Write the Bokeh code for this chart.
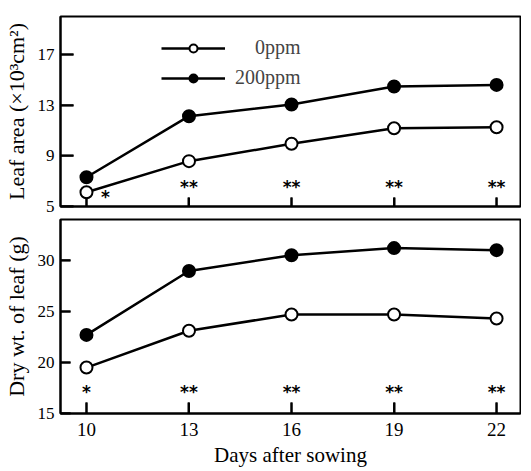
import math
from bokeh.plotting import figure
from bokeh.layouts import column
from bokeh.models import Range1d, FixedTicker, Legend, LegendItem, ColumnDataSource
from bokeh.core.properties import value
from bokeh.embed import file_html
from bokeh.resources import INLINE

# ---- data ----
days = [10, 13, 16, 19, 22]
leaf_area_0ppm = [6.13, 8.58, 9.95, 11.18, 11.26]
leaf_area_200ppm = [7.31, 12.13, 13.05, 14.47, 14.6]
dry_wt_0ppm = [19.5, 23.1, 24.7, 24.7, 24.3]
dry_wt_200ppm = [22.7, 28.95, 30.5, 31.2, 31.0]
sig_leaf_area = ["*", "**", "**", "**", "**"]
sig_dry_wt = ["*", "**", "**", "**", "**"]
leaf_area_ticks = [5, 9, 13, 17]
dry_wt_ticks = [15, 20, 25, 30]
x_ticks = [10, 13, 16, 19, 22]
legend_labels = ["\u2007\u20070ppm", "200ppm"]

SERIF = "Liberation Serif"

x_range = Range1d(9.24, 22.70)


def style(p, yticks, ytick_in, xtick_in):
    p.grid.visible = False
    p.outline_line_color = "black"
    p.outline_line_width = 2
    p.background_fill_color = None
    p.border_fill_color = "white"
    for ax in (p.xaxis[0], p.yaxis[0]):
        ax.axis_line_width = 2
        ax.axis_line_color = "black"
        ax.major_tick_line_width = 2
        ax.major_tick_line_color = "black"
        ax.major_tick_out = 0
        ax.minor_tick_line_color = None
        ax.major_label_text_font = SERIF
        ax.major_label_text_color = "black"
        ax.axis_label_text_font = SERIF
        ax.axis_label_text_font_style = "normal"
        ax.axis_label_text_color = "black"
    p.xaxis.ticker = FixedTicker(ticks=x_ticks)
    p.xaxis.major_tick_in = xtick_in
    p.yaxis.ticker = FixedTicker(ticks=yticks)
    p.yaxis.major_tick_in = ytick_in
    p.yaxis.major_label_text_font_size = "17px"
    p.yaxis.major_label_standoff = 6
    p.yaxis.axis_label_text_font_size = "22px"
    p.yaxis.axis_label_standoff = 6
    # inward tick marks (drawn as clipped dashes centred on the axis lines)
    p.scatter(x=x_ticks, y=[p.y_range.start] * len(x_ticks), marker="dash",
              angle=math.pi / 2, size=2 * xtick_in, line_color="black",
              line_width=2)
    p.scatter(x=[x_range.start] * len(yticks), y=yticks, marker="dash",
              size=2 * ytick_in, line_color="black", line_width=2)


def series(p, y0, y2):
    l2 = p.line(days, y2, line_color="black", line_width=2.5)
    s2 = p.scatter(days, y2, size=12, marker="circle", fill_color="black",
                   line_color="black", line_width=2)
    l0 = p.line(days, y0, line_color="black", line_width=2.5)
    s0 = p.scatter(days, y0, size=12, marker="circle", fill_color="white",
                   line_color="black", line_width=2)
    return (l0, s0), (l2, s2)


def stars(p, labels, ybase, yoffs, xoffs):
    src = ColumnDataSource(dict(x=days, y=[ybase] * len(days), t=labels,
                                yo=yoffs, xo=xoffs))
    p.text(x="x", y="y", text="t", source=src, x_offset="xo", y_offset="yo",
           text_font=value("DejaVu Sans"), text_font_style="bold",
           text_font_size="17px", text_align="center", text_baseline="middle",
           text_color="black")


# ---- top panel ----
p1 = figure(frame_width=460, frame_height=190, x_range=x_range,
            y_range=Range1d(5, 20), output_backend="svg", toolbar_location=None,
            min_border_left=58, min_border_right=1, min_border_top=16,
            min_border_bottom=10)
style(p1, leaf_area_ticks, 13, 9)
p1.yaxis.axis_label = "Leaf area (×10³cm²)"
p1.xaxis.major_label_overrides = {t: "" for t in x_ticks}
p1.xaxis.major_label_text_font_size = "1px"
p1.xaxis.major_label_standoff = 0
(r0, r2) = series(p1, leaf_area_0ppm, leaf_area_200ppm)
stars(p1, sig_leaf_area, 5, [-10, -20, -20, -20, -20], [19, 0, 0, 0, 0])

legend = Legend(items=[LegendItem(label=legend_labels[0], renderers=list(r0)),
                       LegendItem(label=legend_labels[1], renderers=list(r2))],
                location=(101, 117), glyph_width=64, glyph_height=20,
                label_height=20, label_standoff=10, spacing=7, padding=0,
                margin=0, border_line_alpha=0, background_fill_alpha=0,
                label_text_font=SERIF, label_text_font_size="20px")
p1.add_layout(legend)

# ---- bottom panel ----
p2 = figure(frame_width=460, frame_height=194, x_range=x_range,
            y_range=Range1d(15, 34), output_backend="svg", toolbar_location=None,
            min_border_left=58, min_border_right=1, min_border_top=3,
            min_border_bottom=4)
style(p2, dry_wt_ticks, 10, 11)
p2.yaxis.axis_label = "Dry wt. of leaf (g)"
p2.xaxis.axis_label = "Days after sowing"
p2.xaxis.major_label_text_font_size = "19px"
p2.xaxis.major_label_standoff = 9
p2.xaxis.axis_label_text_font_size = "21px"
p2.xaxis.axis_label_standoff = 4
series(p2, dry_wt_0ppm, dry_wt_200ppm)
stars(p2, sig_dry_wt, 15, [-22, -22, -22, -22, -22], [0, 0, 0, 0, 0])

layout = column(p1, p2, spacing=0)
open("out.html", "w").write(file_html(layout, INLINE))
